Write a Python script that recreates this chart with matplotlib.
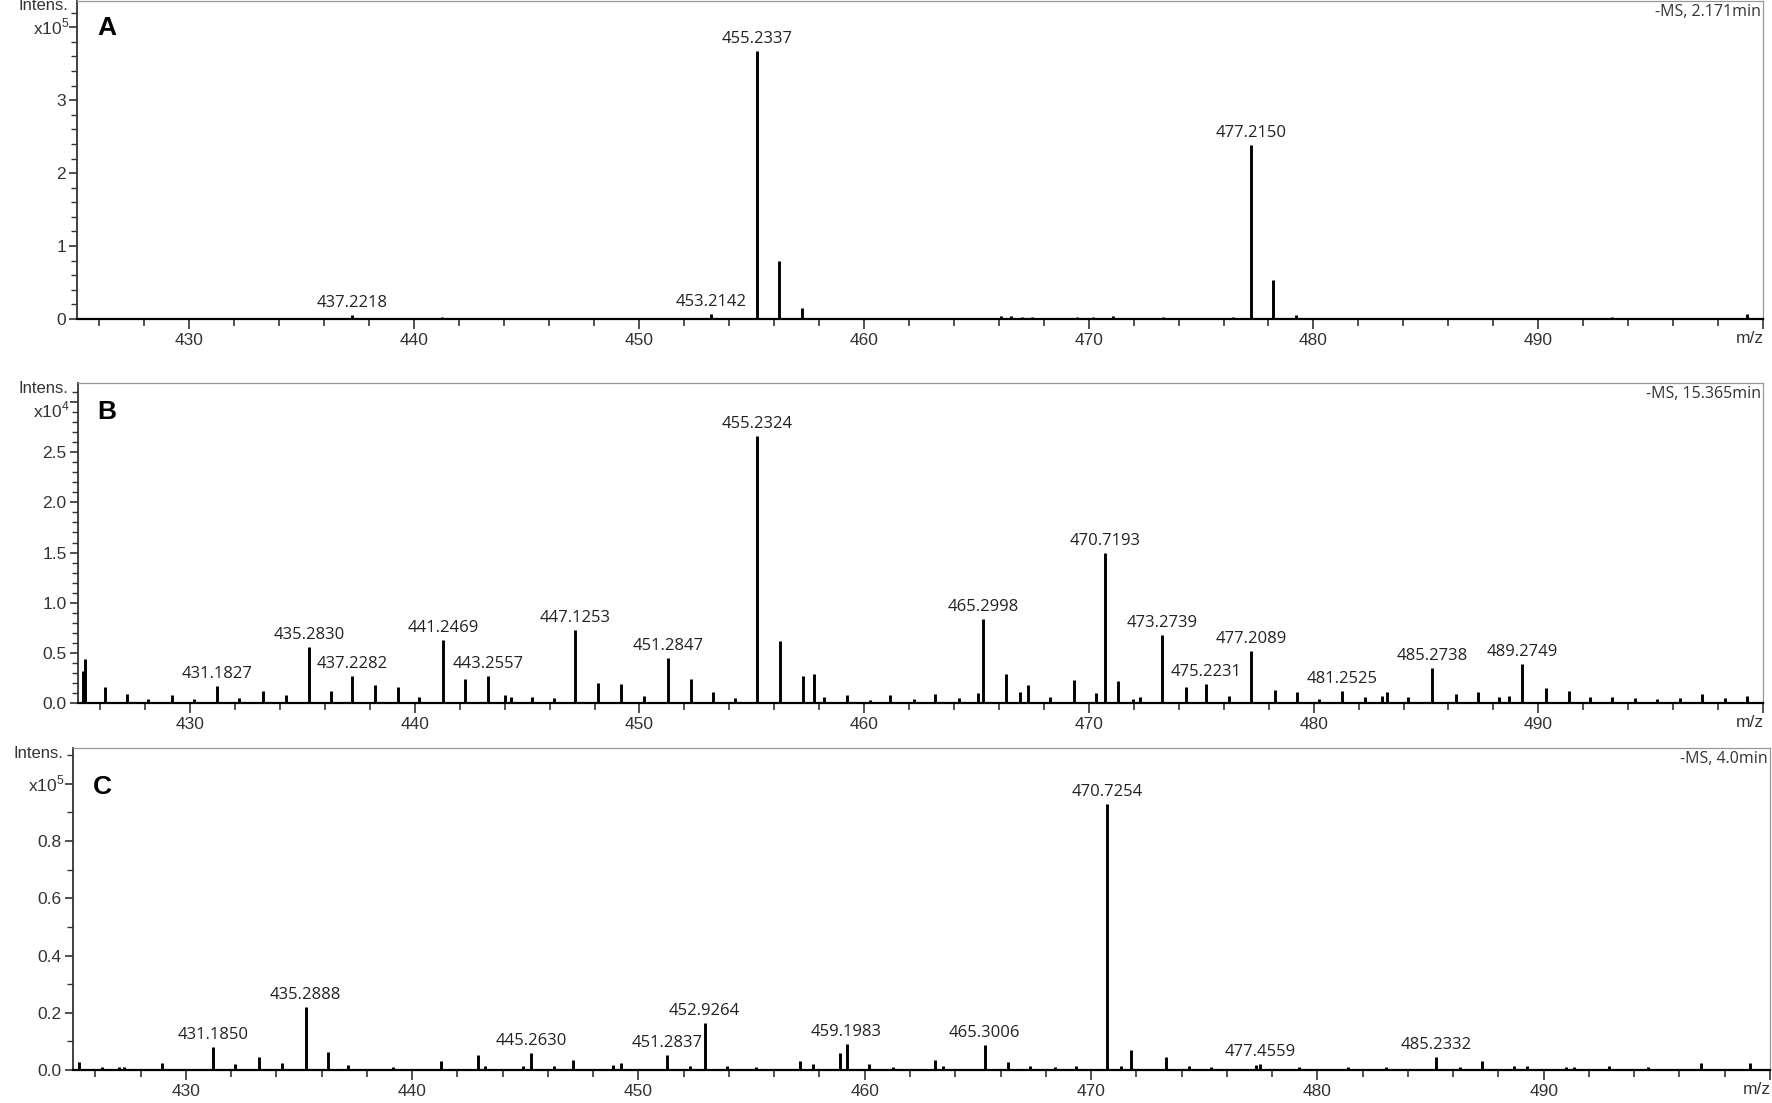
import matplotlib
matplotlib.use("Agg")
import matplotlib.pyplot as plt
from matplotlib.ticker import MultipleLocator, FuncFormatter

plt.rcParams['font.family'] = ['Liberation Sans', 'DejaVu Sans']
plt.rcParams['mathtext.fontset'] = 'custom'
plt.rcParams['mathtext.rm'] = 'Liberation Sans'

# Panel A: -MS, 2.171min  (intensity x10^5)
mz_a = [435.25, 437.2218, 438.2, 441.25, 444.9, 451.4, 453.2142, 455.2337, 456.24, 457.24,
        458.2, 461.2, 466.1, 466.55, 467.05, 467.5, 469.5, 470.2, 471.1, 473.3,
        475.3, 476.4, 477.2150, 478.22, 479.22, 480.3, 482.0, 483.0, 485.3, 487.2,
        488.3, 489.3, 490.3, 493.3, 494.3, 497.3, 498.3, 499.3]
int_a = [0.02, 0.06, 0.015, 0.025, 0.015, 0.02, 0.07, 3.68, 0.80, 0.15,
         0.02, 0.015, 0.04, 0.035, 0.03, 0.025, 0.03, 0.03, 0.045, 0.025,
         0.02, 0.03, 2.38, 0.54, 0.05, 0.02, 0.02, 0.015, 0.02, 0.015,
         0.015, 0.015, 0.02, 0.025, 0.02, 0.02, 0.015, 0.07]
labels_a = [437.2218, 453.2142, 455.2337, 477.2150]

# Panel B: -MS, 15.365min  (intensity x10^4)
mz_b = [425.22, 425.32, 426.23, 427.2, 428.15, 429.2, 430.17, 431.1827, 432.17, 433.25,
        434.25, 435.2830, 436.25, 437.2282, 438.22, 439.25, 440.21, 441.2469, 442.22, 443.2557,
        444.0, 444.3, 445.22, 446.18, 447.1253, 448.15, 449.18, 450.21, 451.2847, 452.31,
        453.25, 454.26, 455.2324, 456.27, 457.26, 457.78, 458.19, 459.23, 460.25, 461.15,
        462.2, 463.15, 464.2, 465.05, 465.2998, 466.32, 466.95, 467.28, 468.28, 469.32,
        470.31, 470.7193, 471.28, 471.95, 472.28, 473.2739, 474.31, 475.2231, 476.25, 477.2089,
        478.29, 479.25, 480.22, 481.2525, 482.29, 483.03, 483.25, 484.22, 485.2738, 486.33,
        487.3, 488.27, 488.71, 489.2749, 490.32, 491.36, 492.3, 493.26, 494.3, 495.3,
        496.3, 497.3, 498.3, 499.3]
int_b = [0.32, 0.44, 0.16, 0.09, 0.04, 0.08, 0.04, 0.17, 0.05, 0.12,
         0.08, 0.56, 0.12, 0.27, 0.18, 0.16, 0.06, 0.63, 0.24, 0.27,
         0.08, 0.06, 0.06, 0.05, 0.73, 0.20, 0.19, 0.07, 0.45, 0.24,
         0.11, 0.05, 2.66, 0.62, 0.27, 0.29, 0.06, 0.08, 0.03, 0.08,
         0.04, 0.09, 0.05, 0.10, 0.84, 0.29, 0.11, 0.18, 0.06, 0.23,
         0.10, 1.50, 0.22, 0.04, 0.06, 0.68, 0.16, 0.19, 0.07, 0.52,
         0.13, 0.11, 0.04, 0.12, 0.06, 0.07, 0.11, 0.06, 0.35, 0.09,
         0.11, 0.06, 0.07, 0.39, 0.15, 0.12, 0.06, 0.06, 0.05, 0.04,
         0.05, 0.09, 0.05, 0.07]
labels_b = [431.1827, 435.2830, 437.2282, 441.2469, 443.2557, 447.1253, 451.2847, 455.2324,
            465.2998, 470.7193, 473.2739, 475.2231, 477.2089, 481.2525, 485.2738, 489.2749]

# Panel C: -MS, 4.0min  (intensity x10^5)
mz_c = [425.26, 426.29, 427.06, 427.25, 428.93, 431.1850, 432.16, 433.24, 434.25, 435.2888,
        436.26, 437.17, 439.16, 441.28, 442.93, 443.2, 444.88, 445.2630, 446.29, 447.13,
        448.88, 449.23, 451.2837, 452.28, 452.9264, 453.91, 455.18, 457.15, 457.7, 458.9,
        459.1983, 460.2, 461.25, 463.1, 463.46, 465.3006, 466.35, 467.3, 468.39, 469.35,
        470.7254, 471.32, 471.75, 473.32, 474.33, 475.31, 477.28, 477.4559, 479.21, 481.37,
        483.05, 485.2332, 486.3, 487.26, 488.7, 489.25, 490.99, 491.35, 492.91, 494.59,
        496.95, 499.11]
int_c = [0.029, 0.01, 0.01, 0.01, 0.025, 0.079, 0.02, 0.047, 0.024, 0.219,
         0.064, 0.018, 0.01, 0.031, 0.052, 0.015, 0.015, 0.058, 0.015, 0.036,
         0.018, 0.024, 0.054, 0.015, 0.165, 0.015, 0.01, 0.031, 0.02, 0.061,
         0.091, 0.02, 0.01, 0.035, 0.015, 0.087, 0.029, 0.015, 0.01, 0.015,
         0.93, 0.015, 0.07, 0.047, 0.015, 0.012, 0.018, 0.02, 0.01, 0.012,
         0.012, 0.047, 0.012, 0.033, 0.015, 0.015, 0.012, 0.012, 0.015, 0.01,
         0.024, 0.024]
labels_c = [431.1850, 435.2888, 445.2630, 451.2837, 452.9264, 459.1983, 465.3006, 470.7254,
            477.4559, 485.2332]

PX = 0.72  # points per pixel at dpi 100

fig = plt.figure(figsize=(17.72, 11.03), dpi=100)

panels = [
    # letter, mz, intens, labels, title, exponent, ylim top, major, minor, exp pos, rect, letter offset
    ("A", mz_a, int_a, labels_a, "-MS, 2.171min", 5, 4.36, 1.0, 0.2, 4.0,
     [0.04345, 0.7108, 0.9515, 0.2883], 15),
    ("B", mz_b, int_b, labels_b, "-MS, 15.365min", 4, 3.19, 0.5, 0.1, 2.92,
     [0.04385, 0.36265, 0.9511, 0.2901], 17),
    ("C", mz_c, int_c, labels_c, "-MS, 4.0min", 5, 1.125, 0.2, 0.1, 1.0,
     [0.04103, 0.02992, 0.9578, 0.2919], 27),
]

for letter, mz, inten, labels, title, expo, ytop, major, minor, exp_y, rect, loff in panels:
    ax = fig.add_axes(rect)
    ax.vlines(mz, 0, inten, color="black", lw=2.1)
    ax.set_xlim(425, 500)
    ax.set_ylim(0, ytop)

    ax.xaxis.set_major_locator(MultipleLocator(10))
    ax.xaxis.set_minor_locator(MultipleLocator(2))
    ax.yaxis.set_major_locator(MultipleLocator(major))
    ax.yaxis.set_minor_locator(MultipleLocator(minor))
    ax.xaxis.set_major_formatter(FuncFormatter(lambda v, p: "" if v >= 500 else f"{v:.0f}"))
    dec = 0 if major >= 1 else 1
    ax.yaxis.set_major_formatter(
        FuncFormatter(lambda v, p, e=exp_y, d=dec: "" if v > e - 0.05 else f"{v:.{d}f}"))

    ax.tick_params(axis="both", which="major", labelsize=12.5, labelcolor="#333333",
                   color="#333333", width=1.2)
    ax.tick_params(axis="x", which="major", length=7, pad=3)
    ax.tick_params(axis="x", which="minor", length=5, width=1.2, color="#333333")
    ax.tick_params(axis="y", which="major", length=6, pad=2)
    ax.tick_params(axis="y", which="minor", length=4, width=1.0, color="#333333")

    for side in ["top", "right"]:
        ax.spines[side].set_color("#999999")
        ax.spines[side].set_linewidth(0.9)
    ax.spines["left"].set_color("#333333")
    ax.spines["left"].set_linewidth(1.3)
    ax.spines["bottom"].set_color("black")
    ax.spines["bottom"].set_linewidth(1.6)

    # peak labels
    lookup = dict(zip(mz, inten))
    for m in labels:
        ax.annotate(f"{m:.4f}", xy=(m, lookup[m]), xytext=(0, 4 * PX),
                    textcoords="offset points", ha="center", va="bottom",
                    fontsize=12, family=["Open Sans", "DejaVu Sans"], color="#222222")

    ax.annotate("Intens.", xy=(0, 1), xycoords="axes fraction",
                xytext=(-9 * PX, -5 * PX), textcoords="offset points",
                ha="right", va="center", fontsize=12, color="#333333")
    ax.annotate(f"x10$^{expo}$", xy=(0, exp_y), xycoords=("axes fraction", "data"),
                xytext=(-8 * PX, 0), textcoords="offset points",
                ha="right", va="center", fontsize=12.5, color="#333333")
    ax.annotate(letter, xy=(0, 1), xycoords="axes fraction",
                xytext=(20 * PX, -loff * PX), textcoords="offset points",
                ha="left", va="top", fontsize=19, fontweight="bold")
    ax.annotate(title, xy=(1, 1), xycoords="axes fraction",
                xytext=(-2 * PX, -11 * PX), textcoords="offset points",
                ha="right", va="center", fontsize=11.5,
                family=["Open Sans", "DejaVu Sans"], color="#333333")
    ax.annotate("m/z", xy=(1, 0), xycoords="axes fraction",
                xytext=(-13 * PX, -20 * PX), textcoords="offset points",
                ha="center", va="center", fontsize=12.5, color="#333333")

fig.savefig("out.png", dpi=100)
